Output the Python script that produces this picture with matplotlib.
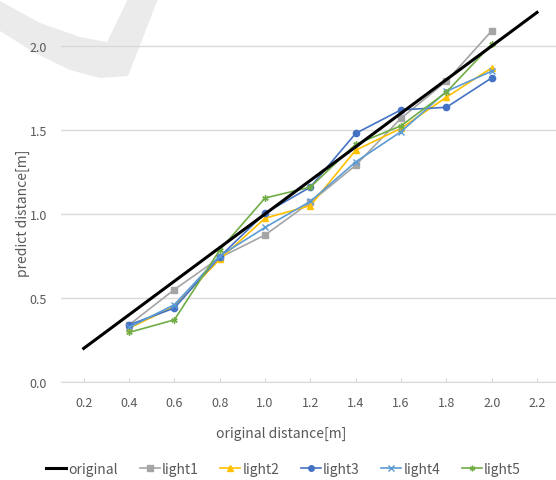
import matplotlib
matplotlib.use("Agg")
import matplotlib.pyplot as plt
from matplotlib.patches import Polygon
from matplotlib.lines import Line2D

# data
x_orig = [0.2, 0.4, 0.6, 0.8, 1.0, 1.2, 1.4, 1.6, 1.8, 2.0, 2.2]
y_orig = [0.2, 0.4, 0.6, 0.8, 1.0, 1.2, 1.4, 1.6, 1.8, 2.0, 2.2]

x_meas = [0.4, 0.6, 0.8, 1.0, 1.2, 1.4, 1.6, 1.8, 2.0]
light1 = [0.34, 0.55, 0.74, 0.875, 1.07, 1.29, 1.57, 1.79, 2.09]
light2 = [0.32, 0.45, 0.73, 0.975, 1.05, 1.38, 1.51, 1.695, 1.87]
light3 = [0.34, 0.44, 0.745, 1.005, 1.16, 1.48, 1.62, 1.635, 1.81]
light4 = [0.325, 0.46, 0.75, 0.92, 1.075, 1.31, 1.49, 1.73, 1.85]
light5 = [0.295, 0.37, 0.785, 1.095, 1.16, 1.415, 1.525, 1.725, 2.01]

names = ["light1", "light2", "light3", "light4", "light5"]
colors = ["#A5A5A5", "#FFC000", "#4472C4", "#5B9BD5", "#70AD47"]
markers = ["s", "^", "o", "x", (6, 2, 0)]

x_ticks = [0.2, 0.4, 0.6, 0.8, 1.0, 1.2, 1.4, 1.6, 1.8, 2.0, 2.2]
y_ticks = [0.0, 0.5, 1.0, 1.5, 2.0]

plt.rcParams['font.family'] = ['Noto Sans CJK JP', 'DejaVu Sans']
txt = "#595959"

fig = plt.figure(figsize=(5.56, 4.81), dpi=100)

# faint watermark swoosh in the top-left corner (pixel coords, y from top)
W, H = 556, 481
pts = [(0, 2), (40, 24), (80, 38), (107, 43), (128, 0), (158, 0),
       (128, 77), (100, 79), (70, 71), (35, 54), (0, 32)]
fig.patches.append(Polygon([(px / W, 1 - py / H) for px, py in pts],
                           closed=True, transform=fig.transFigure,
                           facecolor="#ebebeb", edgecolor="none", zorder=0))

ax = fig.add_axes([61 / W, 98 / H, 498.7 / W, 378 / H])
ax.set_zorder(2)
ax.patch.set_alpha(0)

ax.plot(x_orig, y_orig, color="black", lw=2.2, zorder=5, label="original")
for ys, nm, c, m in zip([light1, light2, light3, light4, light5], names, colors, markers):
    ax.plot(x_meas, ys, color=c, lw=1.2, marker=m, ms=4.5, mew=1.0, label=nm, zorder=4)

ax.set_xlim(0.1, 2.3)
ax.set_ylim(0, 2.25)
ax.set_xticks(x_ticks)
ax.set_xticklabels([f"{v:.1f}" for v in x_ticks])
ax.set_yticks(y_ticks)
ax.set_yticklabels([f"{v:.1f}" for v in y_ticks])
ax.grid(axis="y", color="#d9d9d9", lw=1.0)
ax.set_axisbelow(True)
for s in ["top", "right", "left"]:
    ax.spines[s].set_visible(False)
ax.spines["bottom"].set_color("#d9d9d9")
ax.tick_params(axis="x", direction="in", length=3, color="#d9d9d9",
               labelcolor=txt, labelsize=9, pad=10)
ax.tick_params(axis="y", length=0, labelcolor=txt, labelsize=9, pad=10)

ax.set_xlabel("original distance[m]", color=txt, fontsize=10)
ax.xaxis.set_label_coords(0.442, -0.115)
ax.set_ylabel("predict distance[m]", color=txt, fontsize=10)
ax.yaxis.set_label_coords(-0.062, 0.45)

handles = [Line2D([], [], color="black", lw=2.2)]
for c, m in zip(colors, markers):
    handles.append(Line2D([], [], color=c, lw=1.2, marker=m, ms=4, mew=1.0))
leg = fig.legend(handles, ["original"] + names, loc="center", ncol=6,
                 bbox_to_anchor=(0.51, 1 - 470 / H), frameon=False,
                 fontsize=10, handlelength=1.45, handletextpad=0.15,
                 columnspacing=1.55, labelcolor=txt)

fig.savefig("out.png", dpi=100)
